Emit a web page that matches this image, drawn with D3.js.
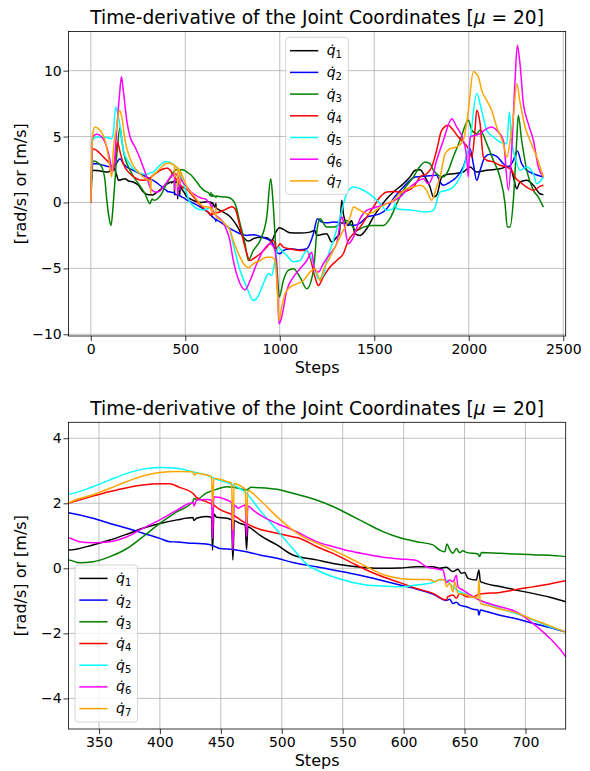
<!DOCTYPE html>
<html>
<head>
<meta charset="utf-8">
<script src="https://cdn.jsdelivr.net/npm/d3@7"></script>
<style>
  body { margin: 0; background: #fff; }
  svg { display: block; }
  text { font-family: "DejaVu Sans", sans-serif; fill: #000; }
</style>
</head>
<body>
<svg id="chart" width="590" height="771"></svg>
<script>
// Joint velocity traces q̇1..q̇7 as [step, value] pairs
const seriesIndex = ["1", "2", "3", "4", "5", "6", "7"];
const seriesColors = ["#000000", "#0000ff", "#008000", "#ff0000", "#00ffff", "#ff00ff", "#ffa500"];

const fullStepTicks = [0, 500, 1000, 1500, 2000, 2500];
const fullValueTicks = [-10, -5, 0, 5, 10];
const zoomStepTicks = [350, 400, 450, 500, 550, 600, 650, 700];
const zoomValueTicks = [-4, -2, 0, 2, 4];

const q1 = [[0,0],[6,2.44],[30,2.42],[49,2.39],[93,2.31],[119,2.69],[137,2.06],[146,1.68],[181,1.80],[199,1.63],[225,1.55],[252,1.30],[278,0.79],[305,0.59],[322,0.58],
[325,0.56],[345,0.72],[359,0.87],[373,1.05],[386,1.23],[400,1.38],[414,1.49],[427,1.56],[428,1.47],[430,1.54],[438,1.59],[442.4,1.57],[443.2,0.56],[444.3,1.67],[446.5,1.57],[455,1.54],[458.8,1.49],[459.9,0.26],[461,1.46],[466,1.38],[470,1.33],[471.1,0.58],[472.2,1.28],[476.5,1.18],[482,1.02],[496,0.72],[509,0.41],[528.5,0.26],[542,0.15],[556,0.07],[569.5,0.02],[583,0],[597,0.01],[610.5,0.05],[624,0.05],[629.6,0],[635,0.03],[640.5,-0.10],[644.6,-0.03],[647.4,-0.15],[650.1,-0.13],[652.8,-0.31],[659.6,-0.36],[661.8,-0.05],[663,-0.41],[679,-0.56],[692.5,-0.67],[706,-0.77],[720,-0.89],[733,-1.03],
[772,-1.74],[807,-2.63],[834,-2.93],[860,-2.75],[896,-2.63],[931,-2.68],[957,-2.88],[975,-2.37],[998,-1.92],[1019,-2.04],[1054,-2.30],[1107,-2.32],[1160,-2.25],[1186,-2.12],[1195,-2.5],[1248,-2.37],[1275,-3.0],[1301,-2.63],[1315,-2.4],[1328,0.16],[1338,-1.0],[1363,-1.74],[1380,-1.36],[1398,-2.37],[1425,-2.5],[1460,-1.99],[1495,-1.11],[1531,-0.35],[1566,0.29],[1601,0.79],[1654,1.42],[1689,1.93],[1716,2.44],[1742,2.49],[1769,1.93],[1795,1.17],[1813,0.41],[1830,0.54],[1857,1.93],[1883,2.13],[1918,2.18],[1971,2.31],[2007,2.69],[2042,2.31],[2095,2.44],[2165,2.56],[2218,2.74],[2236,1.93],[2254,1.04],[2271,1.55],[2307,1.68],[2342,1.30],[2377,0.66],[2395,0.59]];

const q2 = [[0,0],[6,2.94],[31,2.94],[66,2.82],[111,2.69],[128,2.82],[155,3.32],[172,2.94],[190,2.69],[225,2.44],[261,2.18],[296,1.93],[318,1.75],
[325,1.71],[345,1.54],[359,1.38],[373,1.23],[386,1.08],[400,0.92],[408,0.82],[414,0.81],[427,0.77],[438,0.75],[444,0.69],[449,0.61],[460,0.58],[471,0.51],[482,0.41],[496,0.31],[509,0.18],[528.5,0.05],[542,-0.05],[556,-0.15],[569.5,-0.26],[583,-0.38],[597,-0.51],[610.5,-0.64],[624,-0.79],[635,-0.99],[637.8,-0.95],[640.5,-1.08],[643.3,-1.04],[646,-1.13],[651.5,-1.18],[657,-1.26],[661,-1.28],[661.8,-1.44],[663,-1.28],[668,-1.33],[679,-1.44],[692.5,-1.55],[706,-1.69],[720,-1.82],[733,-1.95],
[754,-2.12],[790,-2.37],[825,-2.5],[860,-2.45],[896,-2.58],[931,-2.75],[957,-3.0],[984,-3.77],[1001,-3.89],[1019,-3.64],[1054,-3.51],[1107,-3.59],[1143,-3.51],[1178,-2.37],[1199,-1.23],[1222,-1.49],[1248,-1.54],[1284,-1.49],[1354,-1.61],[1390,-1.74],[1425,-1.56],[1460,-1.11],[1531,-0.85],[1566,-0.47],[1601,0.29],[1654,1.17],[1689,1.68],[1716,1.93],[1777,2.01],[1830,2.06],[1848,1.55],[1866,1.30],[1901,1.55],[1936,1.93],[1971,2.69],[2007,4.08],[2024,2.94],[2042,1.68],[2060,2.44],[2086,3.45],[2112,3.65],[2148,3.5],[2183,2.94],[2210,2.69],[2236,3.20],[2257,3.91],[2280,2.94],[2307,2.44],[2342,2.18],[2395,1.93]];

const q3 = [[0,0],[14,3.15],[31,3.07],[58,2.69],[75,1.68],[84,0.29],[96,-1.11],[107,-1.74],[119,-0.09],[128,1.68],[141,4.21],[155,5.73],[164,4.72],[172,3.96],[208,2.44],[252,1.42],[287,0.66],[313,-0.09],[320,0.15],
[325,0.26],[334,0.17],[345,0.20],[359,0.36],[373,0.61],[386,0.97],[400,1.38],[414,1.74],[427,2.05],[428,2.15],[430,2.12],[438,2.31],[446.5,2.43],[455,2.51],[460,2.49],[466,2.45],[471,2.41],[475,2.49],[482,2.48],[496,2.43],[509,2.31],[528.5,2.10],[542,1.90],[556,1.64],[569.5,1.38],[583,1.13],[597,0.94],[610.5,0.82],[624,0.72],[629.6,0.56],[633.7,0.51],[635.6,0.75],[637.8,0.58],[640.5,0.46],[643.3,0.61],[646,0.48],[648.7,0.54],[651.5,0.49],[661,0.44],[662.4,0.36],[663.8,0.49],[679,0.46],[706,0.42],[733,0.36],
[763,-0.09],[790,-1.61],[816,-3.13],[834,-4.40],[860,-3.64],[896,-2.88],[931,-1.11],[952,1.80],[962,0.5],[975,-2.5],[990,-6.0],[997,-7.18],[1019,-5.92],[1045,-5.16],[1072,-5.03],[1107,-5.66],[1143,-6.55],[1178,-5.16],[1199,-1.87],[1213,-1.23],[1248,-1.87],[1284,-1.87],[1336,-1.49],[1354,-1.36],[1407,-2.12],[1442,-1.87],[1486,-1.74],[1548,-1.74],[1583,-1.23],[1619,-0.09],[1654,0.92],[1707,1.93],[1733,2.56],[1769,3.07],[1795,2.94],[1813,2.44],[1866,1.93],[1892,2.44],[1918,3.45],[1954,4.72],[1998,6.24],[2016,5.48],[2042,5.22],[2060,5.48],[2095,4.46],[2130,3.20],[2165,1.93],[2192,-0.09],[2204,-1.87],[2218,-1.87],[2236,0.16],[2254,4.72],[2262,6.61],[2280,4.72],[2307,2.44],[2342,0.92],[2368,0.41],[2395,-0.35]];

const q4 = [[0,0],[10,4.08],[31,3.96],[58,3.58],[84,3.20],[102,2.94],[119,2.44],[128,3.20],[141,4.59],[155,3.83],[172,2.94],[208,2.18],[243,1.80],[278,1.68],[313,1.86],
[325,2.0],[345,2.22],[359,2.36],[373,2.48],[386,2.56],[400,2.60],[408,2.60],[416,2.49],[427,2.31],[430,2.18],[438,2.05],[444,1.95],[449,1.81],[460,1.64],[466,1.49],[471,1.38],[476.5,1.28],[482,1.20],[496,1.08],[509,0.97],[515,0.92],[528.5,0.67],[542,0.46],[556,0.20],[569.5,-0.05],[583,-0.26],[597,-0.44],[610.5,-0.62],[624,-0.77],[635,-0.97],[636.4,-0.87],[640.5,-0.82],[643.3,-0.92],[646,-0.77],[651.5,-0.87],[657,-0.87],[662.4,-0.79],[679,-0.74],[692.5,-0.65],[706,-0.57],[720,-0.48],[733,-0.38],
[746,-0.33],[763,-0.47],[790,-1.87],[816,-3.39],[843,-4.40],[860,-4.27],[896,-3.89],[931,-3.39],[966,-2.88],[984,-3.51],[1001,-3.13],[1019,-3.39],[1054,-3.51],[1107,-3.64],[1143,-3.64],[1160,-4.15],[1186,-5.66],[1204,-6.30],[1230,-5.66],[1266,-4.90],[1301,-4.40],[1336,-3.89],[1363,-2.88],[1390,-2.37],[1425,-1.87],[1460,-1.11],[1495,-0.35],[1531,0.41],[1566,0.79],[1601,0.84],[1636,0.79],[1672,0.87],[1707,1.17],[1742,1.93],[1777,2.18],[1804,2.69],[1830,3.96],[1857,5.48],[1892,5.86],[1918,5.48],[1945,4.97],[1971,4.59],[1998,4.08],[2016,3.45],[2033,5.48],[2042,6.99],[2060,5.98],[2077,3.45],[2095,3.20],[2130,3.07],[2165,2.82],[2201,2.69],[2227,2.44],[2245,1.93],[2271,1.55],[2307,1.17],[2342,0.92],[2377,1.22],[2395,1.30]];

const q5 = [[0,0],[10,4.72],[31,4.97],[66,4.97],[111,4.84],[119,5.22],[132,7.25],[146,6.49],[158,5.48],[172,3.96],[199,3.07],[225,2.56],[261,2.23],[296,2.13],[320,2.27],
[325,2.28],[345,2.51],[359,2.72],[373,2.92],[386,3.05],[400,3.10],[414,3.08],[427,2.97],[438,2.87],[446.5,2.74],[455,2.64],[463,2.51],[471,2.31],[482,1.79],[496,1.18],[509,0.61],[523,0.05],[528.5,-0.05],[542,-0.26],[556,-0.41],[569.5,-0.51],[583,-0.54],[597,-0.57],[610.5,-0.51],[624,-0.44],[627,-0.38],[631,-0.34],[635,-0.36],[640.5,-0.57],[646,-0.72],[651.5,-0.79],[662.4,-0.98],[679,-1.23],[692.5,-1.39],[706,-1.59],[720,-1.80],[733,-1.98],
[754,-3.2],[790,-5.16],[825,-6.42],[860,-7.44],[887,-7.06],[913,-6.17],[940,-5.41],[957,-5.54],[975,-4.40],[993,-3.39],[1010,-3.64],[1037,-4.02],[1072,-4.5],[1107,-4.40],[1142,-3.64],[1178,-4.65],[1204,-5.79],[1230,-5.54],[1248,-4.40],[1284,-2.88],[1319,-1.11],[1354,0.66],[1390,1.17],[1425,1.04],[1460,0.79],[1495,0.41],[1531,-0.09],[1566,-0.60],[1601,-0.47],[1610,-0.09],[1619,-0.47],[1707,-0.60],[1777,-0.73],[1813,-0.60],[1848,0.79],[1883,0.92],[1918,1.17],[1954,1.93],[1989,3.45],[2007,4.72],[2042,8.26],[2068,6.99],[2095,5.48],[2130,4.97],[2165,4.59],[2201,4.46],[2215,6.87],[2227,4.72],[2245,3.45],[2271,2.44],[2307,2.69],[2342,2.18],[2360,1.42],[2395,1.93]];

const q6 = [[0,0],[10,4.97],[31,5.17],[58,4.97],[84,4.21],[102,3.20],[114,2.31],[125,3.07],[137,5.48],[151,8.01],[162,9.53],[172,8.51],[190,6.24],[208,4.97],[234,4.21],[261,3.32],[296,1.93],[313,1.17],[322,0.95],
[325,0.94],[334,0.82],[345,0.79],[359,0.82],[373,0.97],[386,1.23],[400,1.49],[414,1.79],[424.6,2.0],[427.3,2.02],[428.1,1.92],[430,2.10],[438,2.12],[442.4,2.10],[443.2,0.92],[444.3,2.20],[455,2.10],[458.8,2.02],[459.9,0.56],[461,1.95],[464.2,1.85],[467,1.90],[470,1.95],[471.1,0.97],[472.2,1.92],[476.5,1.79],[482,1.64],[496,1.38],[509,1.18],[523,0.92],[528.5,0.82],[542,0.67],[556,0.53],[569.5,0.43],[583,0.34],[597,0.29],[610.5,0.24],[618.7,0.05],[624,0],[632.3,-0.05],[635.1,-0.44],[637.8,-0.36],[640.5,-0.41],[643.3,-0.21],[644.6,-0.57],[648.7,-0.67],[657,-0.87],[662.4,-0.98],[668,-1.06],[679,-1.18],[692.5,-1.34],[706,-1.69],[720,-2.15],[733,-2.72],
[754,-4.4],[790,-6.17],[816,-6.63],[843,-5.92],[878,-4.65],[913,-3.64],[949,-3.13],[975,-3.64],[987,-6.17],[996,-9.21],[1010,-8.70],[1037,-6.68],[1072,-5.66],[1107,-5.03],[1143,-4.40],[1169,-3.77],[1186,-5.16],[1204,-5.28],[1230,-4.65],[1266,-3.89],[1301,-3.13],[1328,-1.11],[1340,-1.61],[1363,-3.13],[1390,-2.63],[1425,-1.23],[1460,-0.60],[1513,-0.35],[1566,-0.09],[1636,0.41],[1689,1.17],[1724,1.55],[1760,1.80],[1786,1.42],[1804,1.80],[1830,3.20],[1866,4.72],[1910,6.36],[1936,5.73],[1971,4.72],[1989,3.45],[1998,1.93],[2007,4.97],[2060,5.22],[2095,5.60],[2121,5.73],[2148,5.48],[2183,4.72],[2210,0.92],[2227,3.96],[2245,9.27],[2257,11.93],[2271,10.54],[2289,7.50],[2315,5.98],[2342,4.72],[2368,2.69],[2395,1.93]];

const q7 = [[0,0],[10,5.22],[22,5.73],[49,5.48],[75,4.72],[93,3.45],[111,1.93],[119,3.96],[137,5.73],[151,6.99],[164,6.49],[181,4.72],[208,3.32],[243,2.44],[278,1.93],[305,1.68],[315,1.6],[317,0.66],[320,1.8],
[325,2.0],[345,2.26],[359,2.46],[373,2.67],[386,2.84],[400,2.95],[414,2.98],[427,2.97],[428.1,2.87],[430,2.92],[438,2.87],[442.4,2.82],[443.2,1.90],[444.3,2.77],[455,2.67],[458.8,2.63],[459.9,1.18],[461,2.61],[467,2.51],[470,2.43],[471.1,1.38],[472.2,2.39],[482,2.10],[496,1.59],[509,1.18],[515,1.02],[528.5,0.78],[542,0.56],[556,0.31],[569.5,0.05],[583,-0.19],[597,-0.31],[610.5,-0.34],[621.4,-0.34],[625.5,-0.41],[629.6,-0.34],[633.7,-0.36],[635.1,-0.57],[637.8,-0.46],[640.5,-0.72],[641.9,-0.41],[644.6,-0.77],[648.7,-0.79],[657,-0.89],[661,-0.92],[661.8,-0.36],[663,-1.08],[668,-1.13],[679,-1.25],[692.5,-1.37],[706,-1.57],[720,-1.77],[733,-1.98],
[754,-2.88],[790,-4.15],[816,-4.78],[834,-4.95],[860,-4.65],[896,-4.40],[931,-4.15],[957,-4.15],[975,-4.40],[987,-6.68],[996,-8.96],[1010,-7.94],[1028,-6.93],[1054,-6.42],[1090,-6.17],[1125,-5.92],[1160,-5.28],[1187,-5.03],[1213,-5.92],[1230,-5.16],[1266,-4.15],[1301,-3.13],[1336,-2.12],[1372,-1.11],[1390,-0.35],[1425,-0.60],[1460,-0.85],[1495,-0.73],[1531,-0.35],[1566,-0.09],[1601,0.16],[1636,0.66],[1672,1.04],[1707,1.17],[1742,1.30],[1777,0.92],[1804,0.16],[1830,1.17],[1848,1.93],[1875,3.70],[1901,4.08],[1936,4.21],[1971,4.72],[1998,6.99],[2024,9.91],[2051,9.53],[2068,8.51],[2095,7.75],[2121,6.99],[2148,5.73],[2183,4.46],[2201,3.45],[2222,4.97],[2236,6.49],[2254,9.02],[2271,7.63],[2298,5.73],[2324,4.72],[2360,3.45],[2395,1.93]];

const series = [q1, q2, q3, q4, q5, q6, q7];

const svg = d3.select("#chart");
const gridColor = "#b0b0b0";
const tickFormat = d3.format("d");

function drawPanel(cfg) {
  const x = d3.scaleLinear().domain(cfg.xDomain).range([cfg.left, cfg.right]);
  const y = d3.scaleLinear().domain(cfg.yDomain).range([cfg.bottom, cfg.top]);
  const g = svg.append("g");

  const clipId = cfg.id + "-clip";
  svg.append("defs").append("clipPath").attr("id", clipId)
    .append("rect")
    .attr("x", cfg.left).attr("y", cfg.top)
    .attr("width", cfg.right - cfg.left).attr("height", cfg.bottom - cfg.top);

  // grid
  g.append("g").selectAll("line").data(cfg.xTicks).join("line")
    .attr("x1", d => x(d)).attr("x2", d => x(d))
    .attr("y1", cfg.top).attr("y2", cfg.bottom)
    .attr("stroke", gridColor).attr("stroke-width", 0.8);
  g.append("g").selectAll("line").data(cfg.yTicks).join("line")
    .attr("x1", cfg.left).attr("x2", cfg.right)
    .attr("y1", d => y(d)).attr("y2", d => y(d))
    .attr("stroke", gridColor).attr("stroke-width", 0.8);

  // traces
  const line = d3.line()
    .x(d => x(d[0])).y(d => y(d[1]))
    .curve(d3.curveMonotoneX);
  g.append("g").attr("clip-path", `url(#${clipId})`)
    .selectAll("path").data(series).join("path")
    .attr("d", line)
    .attr("fill", "none")
    .attr("stroke", (d, i) => seriesColors[i])
    .attr("stroke-width", 1.5)
    .attr("stroke-linejoin", "round");

  // axes
  const xAxis = d3.axisBottom(x).tickValues(cfg.xTicks).tickFormat(tickFormat)
    .tickSize(5).tickSizeOuter(0).tickPadding(3.4);
  const yAxis = d3.axisLeft(y).tickValues(cfg.yTicks).tickFormat(tickFormat)
    .tickSize(5).tickSizeOuter(0).tickPadding(1.8);
  const gx = g.append("g").attr("transform", `translate(0,${cfg.bottom})`).call(xAxis);
  const gy = g.append("g").attr("transform", `translate(${cfg.left},0)`).call(yAxis);
  [gx, gy].forEach(ax => {
    ax.select(".domain").remove();
    ax.selectAll(".tick line").attr("stroke", "#000").attr("stroke-width", 0.8);
    ax.selectAll(".tick text")
      .attr("font-family", "DejaVu Sans, sans-serif")
      .attr("font-size", 14).attr("fill", "#000");
  });

  // frame
  g.append("rect")
    .attr("x", cfg.left).attr("y", cfg.top)
    .attr("width", cfg.right - cfg.left).attr("height", cfg.bottom - cfg.top)
    .attr("fill", "none").attr("stroke", "#000").attr("stroke-width", 0.8);

  // title
  const title = g.append("text")
    .attr("x", (cfg.left + cfg.right) / 2).attr("y", cfg.top - 7.3)
    .attr("text-anchor", "middle").attr("font-size", 18.6);
  title.append("tspan").text("Time-derivative of the Joint Coordinates [");
  title.append("tspan").attr("font-style", "italic").text("μ");
  title.append("tspan").text(" = 20]");

  // axis labels
  g.append("text")
    .attr("x", (cfg.left + cfg.right) / 2).attr("y", cfg.bottom + 36.8)
    .attr("text-anchor", "middle").attr("font-size", 16)
    .text("Steps");
  g.append("text")
    .attr("transform", `translate(25.5,${(cfg.top + cfg.bottom) / 2}) rotate(-90)`)
    .attr("text-anchor", "middle").attr("font-size", 16)
    .text("[rad/s] or [m/s]");

  // legend
  const lg = g.append("g").attr("transform", `translate(${cfg.legendX},${cfg.legendY})`);
  lg.append("rect")
    .attr("width", 62.6).attr("height", 157)
    .attr("rx", 3).attr("ry", 3)
    .attr("fill", "#fff").attr("fill-opacity", 0.8)
    .attr("stroke", "#cccccc").attr("stroke-width", 0.8);
  seriesIndex.forEach((k, i) => {
    const cy = 13.4 + i * 21.7;
    lg.append("line")
      .attr("x1", 4.3).attr("x2", 32.6).attr("y1", cy).attr("y2", cy)
      .attr("stroke", seriesColors[i]).attr("stroke-width", 1.5);
    const t = lg.append("text").attr("x", 41).attr("y", cy + 4.5).attr("font-size", 14);
    t.append("tspan").attr("font-style", "italic").text("q\u0307");
    t.append("tspan").attr("font-size", 10).attr("dy", 3).text(k);
  });
}

drawPanel({
  id: "full",
  left: 68.5, right: 565.7, top: 31.5, bottom: 336,
  xDomain: [-118, 2513], yDomain: [-10.13, 12.97],
  xTicks: fullStepTicks, yTicks: fullValueTicks,
  legendX: 285.7, legendY: 37.3
});

drawPanel({
  id: "zoom",
  left: 68.5, right: 565.7, top: 422.3, bottom: 729,
  xDomain: [325, 733], yDomain: [-4.94, 4.49],
  xTicks: zoomStepTicks, yTicks: zoomValueTicks,
  legendX: 75, legendY: 565
});
</script>
</body>
</html>
